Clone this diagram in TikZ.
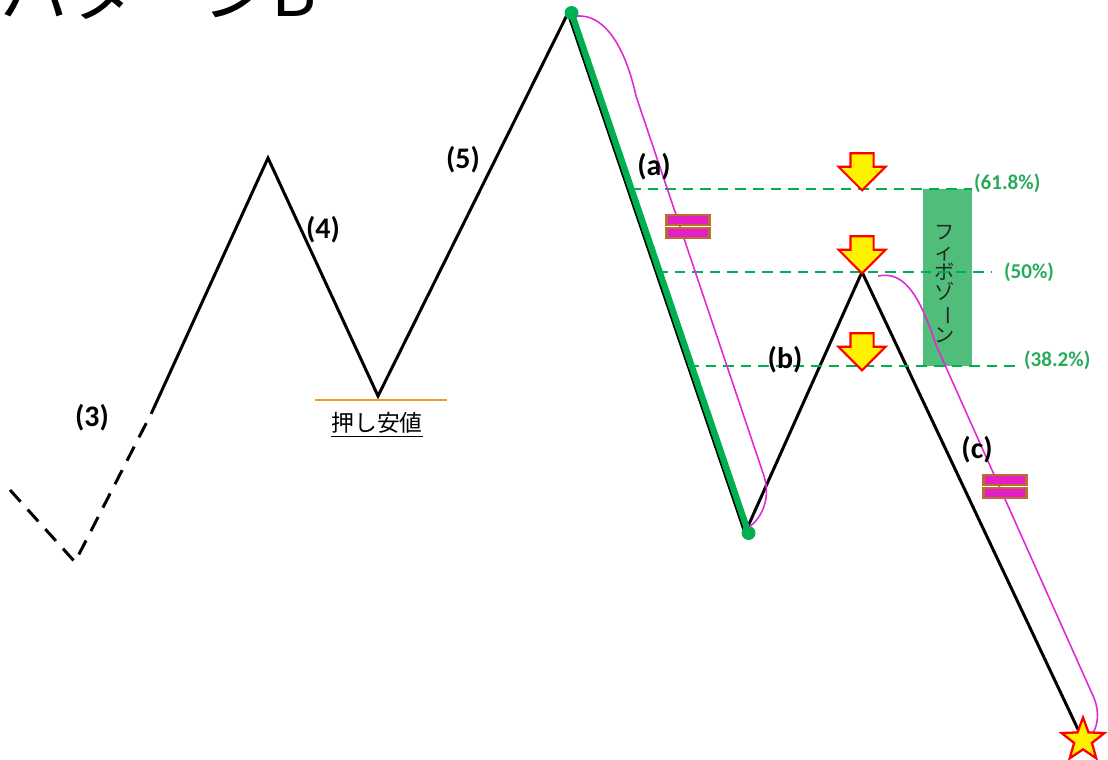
\documentclass[tikz,border=0pt]{standalone}
\usepackage{fontspec}
\setmainfont{Carlito}
\newfontfamily\jpfont{Noto Sans CJK JP}
\usepackage{tikz}
\usetikzlibrary{shapes.geometric,shapes.arrows}
\definecolor{fibogreen}{RGB}{0,176,80}
\definecolor{zonegreen}{RGB}{80,190,122}
\definecolor{labgreen}{RGB}{40,170,90}
\definecolor{pinkline}{RGB}{225,40,215}
\definecolor{eqfill}{RGB}{230,30,200}
\definecolor{eqedge}{RGB}{185,110,45}
\definecolor{lowline}{RGB}{240,150,50}

\begin{document}
\begin{tikzpicture}[
  x=0.02cm, y=-0.02cm,
  wave/.style={line width=1.7pt, black},
  wavedash/.style={wave, dash pattern=on 9pt off 6pt},
  lab/.style={font=\bfseries\fontsize{17}{20}\selectfont},
  fib/.style={dashed, dash pattern=on 6pt off 4pt, line width=1.3pt, fibogreen},
  fiblab/.style={font=\bfseries\fontsize{12}{14}\selectfont, labgreen},
  downarr/.style={single arrow, shape border rotate=270, fill=yellow, draw=red,
    line width=1.2pt, inner xsep=0.21cm, inner ysep=0pt,
    single arrow head extend=0.24cm, minimum height=0.74cm},
  eqbar/.style={rectangle, fill=eqfill, draw=eqedge, line width=1.6pt,
    inner sep=0pt, minimum width=0.86cm, minimum height=0.2cm},
  arc/.style={pinkline, line width=0.9pt},
  dot/.style={circle, fill=fibogreen, inner sep=0pt, minimum size=0.28cm}
]
\useasboundingbox (0,0) rectangle (1108,760);

% title (cut at the top)
\node[anchor=base west, font=\jpfont\fontsize{39}{40}\selectfont, inner sep=0pt]
  (title) at (0,17) {パターンB};

% wave points
\coordinate (s0) at (10,490);
\coordinate (w3) at (75,562);
\coordinate (dd) at (152,412);
\coordinate (p3) at (268,158);
\coordinate (w4) at (378,396);
\coordinate (p5) at (568,13);
\coordinate (wa) at (745,533);
\coordinate (pb) at (862,272);
\coordinate (wc) at (1083,740);

\draw[wavedash] (s0) -- (w3) -- (dd);
\draw[wave] (dd) -- (p3) -- (w4) -- (p5) -- (wa) -- (pb) -- (wc);

% fibo levels
\coordinate (f618a) at (630,189);
\coordinate (f618b) at (972,189);
\coordinate (f50a) at (657,272);
\coordinate (f50b) at (992,272);
\coordinate (f382a) at (688,366);
\coordinate (f382b) at (1020,366);

\node[rectangle, fill=zonegreen, minimum width=0.98cm, minimum height=3.54cm,
  inner sep=0pt] (zone) at (947.5,277.5) {};
\node[font=\jpfont\fontsize{11.5}{11.5}\selectfont, align=center, black!85] (zonetxt) at (945,284)
  {フ\\ィ\\ボ\\ゾ\\\rotatebox[origin=c]{-90}{ー}\\ン};

\draw[fib] (f618a) -- (f618b);
\draw[fib] (f50a) -- (f50b);
\draw[fib] (f382a) -- (f382b);

\node[fiblab, anchor=west, inner sep=1pt] (l618) at (972,183) {(61.8\%)};
\node[fiblab, anchor=west, inner sep=1pt] (l50) at (1002,272) {(50\%)};
\node[fiblab, anchor=west, inner sep=1pt] (l382) at (1022,360) {(38.2\%)};

% leg (a) in green
\draw[fibogreen, line width=3.6pt] ([xshift=2]p5) -- ([xshift=2]wa);
\node[dot] (topdot) at ([xshift=2]p5) {};
\node[dot] (lowdot) at ([xshift=2]wa) {};

% equal lengths
\draw[arc] (577,16) .. controls (606,14) and (626,50) .. (636,96)
  -- (764,476) .. controls (771,498) and (762,518) .. (749,527);
\draw[arc] (878,276) .. controls (906,270) and (921,300) .. (936,345)
  -- (1094,698) .. controls (1100,713) and (1098,728) .. (1090,737);

\node[eqbar] (eqa1) at (688,220) {};
\node[eqbar] (eqa2) at (688,233) {};
\node[eqbar] (eqc1) at (1005,480) {};
\node[eqbar] (eqc2) at (1005,493) {};

% arrows
\node[downarr] (arr1) at (862,166) {};
\node[downarr] (arr2) at (862,249) {};
\node[downarr] (arr3) at (862,346) {};

\node[star, star points=5, star point ratio=2.4, fill=yellow, draw=red,
  line width=1.3pt, minimum size=0.9cm, inner sep=0pt] (goal) at (1083,740) {};

% push low
\draw[lowline, line width=1.6pt] (315,400) -- (447,400);
\node[font=\jpfont\fontsize{13}{15}\selectfont] (oshi) at (377,425) {\underline{押し安値}};

% wave labels
\node[lab] (l3) at (92,418) {(3)};
\node[lab] (l4) at (323,230) {(4)};
\node[lab] (l5) at (463,160) {(5)};
\node[lab] (la) at (654,167) {(a)};
\node[lab] (lb) at (785,360) {(b)};
\node[lab] (lc) at (977,450) {(c)};
\end{tikzpicture}
\end{document}
